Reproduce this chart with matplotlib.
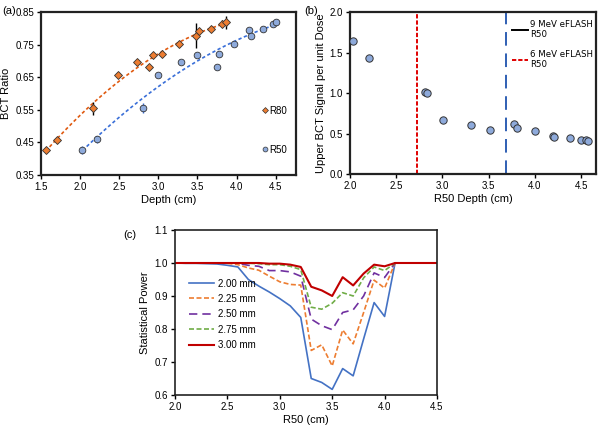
import numpy as np
import matplotlib
matplotlib.use("Agg")
import matplotlib.pyplot as plt
from matplotlib.lines import Line2D

plt.rcParams['font.family'] = ['Liberation Sans', 'DejaVu Sans']

# (a) BCT ratio vs depth
r80_depth = [1.56, 1.71, 2.16, 2.49, 2.73, 2.88, 2.93, 3.05, 3.27, 3.48, 3.52, 3.67, 3.82, 3.86]
r80_ratio = [0.427, 0.458, 0.555, 0.657, 0.698, 0.681, 0.717, 0.722, 0.752, 0.777, 0.793, 0.797, 0.814, 0.818]
r80_err = [0.006, 0.01, 0.02, 0.006, 0.006, 0.01, 0.008, 0.01, 0.01, 0.038, 0.006, 0.006, 0.01, 0.02]

r50_depth = [2.03, 2.21, 2.80, 3.00, 3.29, 3.49, 3.75, 3.78, 3.97, 4.16, 4.18, 4.34, 4.46, 4.51]
r50_ratio = [0.427, 0.459, 0.556, 0.657, 0.698, 0.719, 0.681, 0.722, 0.752, 0.796, 0.777, 0.798, 0.814, 0.818]
r50_err = [0.012, 0.01, 0.015, 0.004, 0.004, 0.004, 0.004, 0.004, 0.004, 0.004, 0.004, 0.004, 0.004, 0.004]

# (b) upper BCT signal per unit dose
b_depth = [2.03, 2.21, 2.81, 2.83, 3.01, 3.31, 3.51, 3.77, 3.81, 4.0, 4.2, 4.21, 4.38, 4.5, 4.55, 4.57]
b_signal = [1.647, 1.43, 1.01, 1.0, 0.667, 0.6, 0.546, 0.62, 0.57, 0.53, 0.47, 0.46, 0.445, 0.425, 0.425, 0.41]
r50_9mev = 3.685
r50_6mev = 2.72

# (c) statistical power
r50_c = [2.0, 2.1, 2.2, 2.3, 2.4, 2.5, 2.6, 2.7, 2.8, 2.9, 3.0, 3.1, 3.2, 3.3, 3.4, 3.5,
         3.6, 3.7, 3.8, 3.9, 4.0, 4.1, 4.2, 4.3, 4.4, 4.5]
power_200 = [1.0, 0.999, 0.999, 0.998, 0.997, 0.993, 0.988, 0.95, 0.93, 0.912, 0.892, 0.87, 0.835,
             0.65, 0.638, 0.617, 0.68, 0.658, 0.77, 0.88, 0.838, 1.0, 1.0, 1.0, 1.0, 1.0]
power_225 = [1.0, 1.0, 1.0, 1.0, 1.0, 0.999, 0.995, 0.985, 0.978, 0.96, 0.943, 0.935, 0.933,
             0.735, 0.752, 0.688, 0.797, 0.755, 0.85, 0.948, 0.924, 1.0, 1.0, 1.0, 1.0, 1.0]
power_250 = [1.0, 1.0, 1.0, 1.0, 1.0, 1.0, 0.999, 0.993, 0.99, 0.977, 0.977, 0.973, 0.96,
             0.83, 0.81, 0.798, 0.85, 0.858, 0.9, 0.97, 0.956, 1.0, 1.0, 1.0, 1.0, 1.0]
power_275 = [1.0, 1.0, 1.0, 1.0, 1.0, 1.0, 1.0, 0.999, 0.998, 0.995, 0.995, 0.99, 0.98,
             0.866, 0.86, 0.878, 0.91, 0.9, 0.955, 0.988, 0.977, 1.0, 1.0, 1.0, 1.0, 1.0]
power_300 = [1.0, 1.0, 1.0, 1.0, 1.0, 1.0, 1.0, 1.0, 1.0, 0.998, 0.998, 0.995, 0.988,
             0.928, 0.917, 0.9, 0.957, 0.932, 0.968, 0.995, 0.99, 1.0, 1.0, 1.0, 1.0, 1.0]

orange = '#ed7d31'
blue_pt = '#8eaadb'
fs = 7

fig = plt.figure(figsize=(6.02, 4.26), dpi=100)


def style(ax, lw=1.6):
    for s in ax.spines.values():
        s.set_linewidth(lw)
        s.set_color('#222222')
    ax.tick_params(direction='out', length=3, width=1, labelsize=fs, pad=2)


# ---- (a)
ax1 = fig.add_axes([0.0681, 0.5892, 0.4236, 0.3826])
p80 = np.polyfit(r80_depth, r80_ratio, 2)
xx = np.linspace(min(r80_depth), max(r80_depth), 100)
ax1.plot(xx, np.polyval(p80, xx), ls=(0, (2, 1.5)), color='#e05a10', lw=1.2)
p50 = np.polyfit(r50_depth, r50_ratio, 2)
xx = np.linspace(min(r50_depth), max(r50_depth), 100)
ax1.plot(xx, np.polyval(p50, xx), ls=(0, (2, 1.5)), color='#3a6fd8', lw=1.2)
ax1.errorbar(r80_depth, r80_ratio, yerr=r80_err, fmt='D', color=orange, mec='#333333',
             mew=0.6, ms=4.2, ecolor='black', elinewidth=1, capsize=0, zorder=3)
ax1.errorbar(r50_depth, r50_ratio, yerr=r50_err, fmt='o', color=blue_pt, mec='#333333',
             mew=0.6, ms=4.8, ecolor='#3a6fd8', elinewidth=1, capsize=0, zorder=3)
ax1.set_xlim(1.5, 4.76)
ax1.set_ylim(0.35, 0.85)
ax1.set_xticks([1.5, 2.0, 2.5, 3.0, 3.5, 4.0, 4.5])
ax1.set_yticks([0.35, 0.45, 0.55, 0.65, 0.75, 0.85])
ax1.set_xticklabels(['1.5', '2.0', '2.5', '3.0', '3.5', '4.0', '4.5'])
ax1.set_yticklabels(['0.35', '0.45', '0.55', '0.65', '0.75', '0.85'])
ax1.set_xlabel('Depth (cm)', fontsize=8, labelpad=2)
ax1.set_ylabel('BCT Ratio', fontsize=8, labelpad=3)
style(ax1)
h80 = Line2D([], [], marker='D', ls='none', color=orange, mec='#333333', mew=0.5, ms=3)
h50 = Line2D([], [], marker='o', ls='none', color=blue_pt, mec='#333333', mew=0.5, ms=3.5)
ax1.legend([h80, h50], ['R80', 'R50'], loc='lower right', bbox_to_anchor=(1.0, 0.07),
           frameon=False, fontsize=fs, labelspacing=3.0, handlelength=0.6,
           handletextpad=0.2)
fig.text(0.003, 0.985, '(a)', fontsize=8, va='top')

# ---- (b)
ax2 = fig.add_axes([0.5814, 0.5915, 0.4086, 0.380])
ax2.axvline(r50_6mev, color='#e00000', ls=(0, (2.2, 1)), lw=1.4)
ax2.axvline(r50_9mev, color='#2f5fb3', ls=(0, (7, 4)), lw=1.4)
ax2.scatter(b_depth, b_signal, s=28, color=blue_pt, edgecolor='#333333', lw=0.7, zorder=3)
ax2.set_xlim(2.0, 4.66)
ax2.set_ylim(0.0, 2.0)
ax2.set_xticks([2.0, 2.5, 3.0, 3.5, 4.0, 4.5])
ax2.set_yticks([0.0, 0.5, 1.0, 1.5, 2.0])
ax2.set_xticklabels(['2.0', '2.5', '3.0', '3.5', '4.0', '4.5'])
ax2.set_yticklabels(['0.0', '0.5', '1.0', '1.5', '2.0'])
ax2.set_xlabel('R50 Depth (cm)', fontsize=8, labelpad=2)
ax2.set_ylabel('Upper BCT Signal per unit Dose', fontsize=8, labelpad=3)
style(ax2)
hl9 = Line2D([], [], color='black', lw=1.4)
hl6 = Line2D([], [], color='#e00000', lw=1.4, ls=(0, (2.2, 1)))
ax2.legend([hl9, hl6], ['9 MeV eFLASH\nR50', '6 MeV eFLASH\nR50'], loc='upper right',
           bbox_to_anchor=(1.02, 1.0), frameon=False,
           prop={'family': 'DejaVu Sans', 'size': 6.2}, handlelength=1.8,
           handletextpad=0.3, labelspacing=1.2)
fig.text(0.505, 0.985, '(b)', fontsize=8, va='top')

# ---- (c)
ax3 = fig.add_axes([0.2907, 0.0728, 0.4352, 0.3873])
ax3.plot(r50_c, power_200, color='#4472c4', lw=1.2, label='2.00 mm')
ax3.plot(r50_c, power_225, color='#ed7d31', lw=1.2, ls=(0, (3, 1.5)), label='2.25 mm')
ax3.plot(r50_c, power_250, color='#7030a0', lw=1.2, ls=(0, (5, 3)), label='2.50 mm')
ax3.plot(r50_c, power_275, color='#70ad47', lw=1.2, ls=(0, (3, 1.5)), label='2.75 mm')
ax3.plot(r50_c, power_300, color='#c00000', lw=1.5, label='3.00 mm')
ax3.set_xlim(2.0, 4.5)
ax3.set_ylim(0.6, 1.1)
ax3.set_xticks([2.0, 2.5, 3.0, 3.5, 4.0, 4.5])
ax3.set_yticks([0.6, 0.7, 0.8, 0.9, 1.0, 1.1])
ax3.set_xticklabels(['2.0', '2.5', '3.0', '3.5', '4.0', '4.5'])
ax3.set_yticklabels(['0.6', '0.7', '0.8', '0.9', '1.0', '1.1'])
ax3.set_xlabel('R50 (cm)', fontsize=8, labelpad=2)
ax3.set_ylabel('Statistical Power', fontsize=8, labelpad=3)
style(ax3, lw=1.2)
ax3.legend(loc='lower left', bbox_to_anchor=(0.02, 0.22), frameon=False, fontsize=fs,
           handlelength=2.6, handletextpad=0.4, labelspacing=0.55)
fig.text(0.205, 0.46, '(c)', fontsize=8, va='top')

fig.savefig('out.png', dpi=100)
